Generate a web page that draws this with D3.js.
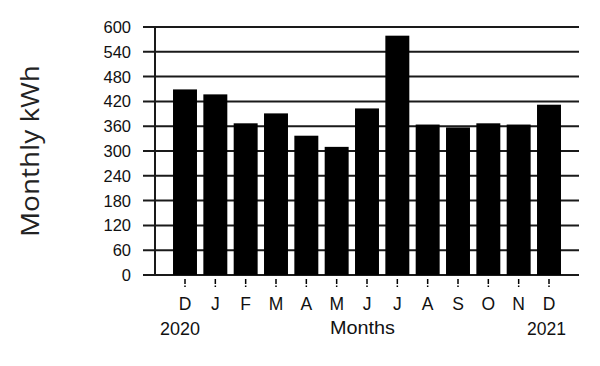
<!DOCTYPE html>
<html>
<head>
<meta charset="utf-8">
<script src="https://cdn.jsdelivr.net/npm/d3@7"></script>
<style>
  body { margin: 0; background: #fff; }
  text { font-family: "Liberation Sans", Arial, sans-serif; fill: #111; }
</style>
</head>
<body>
<svg width="600" height="366"></svg>
<script>
const svg = d3.select("svg");

// data
const months = ["D", "J", "F", "M", "A", "M", "J", "J", "A", "S", "O", "N", "D"];
const kwh = [449, 437, 367, 391, 337, 310, 403, 579, 364, 357, 367, 364, 412];
const yTicks = [0, 60, 120, 180, 240, 300, 360, 420, 480, 540, 600];

const plotLeft = 155, plotRight = 579, plotTop = 27, plotBottom = 275;
const ids = months.map((m, i) => i);

// bar centres
const x = d3.scalePoint().domain(ids).range([185, 549]);
const barW = x.step() * 0.79;
const y = d3.scaleLinear().domain([0, 600]).range([plotBottom, plotTop]);

// gridlines
svg.append("g").selectAll("line").data(yTicks).join("line")
  .attr("x1", plotLeft - 12).attr("x2", plotRight)
  .attr("y1", d => y(d)).attr("y2", d => y(d))
  .attr("stroke", "#1a1a1a").attr("stroke-width", 2);

// y tick labels
svg.append("g").selectAll("text").data(yTicks).join("text")
  .attr("x", 131).attr("y", d => y(d)).attr("dy", "0.36em")
  .attr("text-anchor", "end").attr("font-size", 16.5)
  .text(d => d);

// bars
svg.append("g").selectAll("rect").data(kwh).join("rect")
  .attr("x", (d, i) => x(i) - barW / 2).attr("width", barW)
  .attr("y", d => y(d)).attr("height", d => y(0) - y(d))
  .attr("fill", "#000");

// y axis line
svg.append("line")
  .attr("x1", plotLeft).attr("x2", plotLeft).attr("y1", plotTop).attr("y2", plotBottom)
  .attr("stroke", "#1a1a1a").attr("stroke-width", 2);

// x ticks
svg.append("g").selectAll("line").data(ids).join("line")
  .attr("x1", i => x(i)).attr("x2", i => x(i))
  .attr("y1", 279).attr("y2", 287)
  .attr("stroke", "#000").attr("stroke-width", 1.5)
  .attr("stroke-dasharray", "5,1.5");

// month labels
svg.append("g").selectAll("text").data(ids).join("text")
  .attr("x", i => x(i)).attr("y", 309.5)
  .attr("text-anchor", "middle").attr("font-size", 17.5)
  .text(i => months[i]);

svg.append("text").attr("x", 180).attr("y", 335).attr("text-anchor", "middle")
  .attr("font-size", 19).attr("textLength", 40).attr("lengthAdjust", "spacingAndGlyphs")
  .text("2020");
svg.append("text").attr("x", 362.5).attr("y", 333.5).attr("text-anchor", "middle")
  .attr("font-size", 18.5).attr("textLength", 65).attr("lengthAdjust", "spacingAndGlyphs")
  .text("Months");
svg.append("text").attr("x", 546.5).attr("y", 335).attr("text-anchor", "middle")
  .attr("font-size", 19).attr("textLength", 39).attr("lengthAdjust", "spacingAndGlyphs")
  .text("2021");

svg.append("text")
  .attr("transform", "translate(39,151) rotate(-90)")
  .attr("text-anchor", "middle").attr("font-size", 25)
  .attr("textLength", 172).attr("lengthAdjust", "spacingAndGlyphs")
  .style("font-family", "'Open Sans', 'Noto Sans', sans-serif")
  .style("fill", "#222")
  .text("Monthly kWh");
</script>
</body>
</html>
